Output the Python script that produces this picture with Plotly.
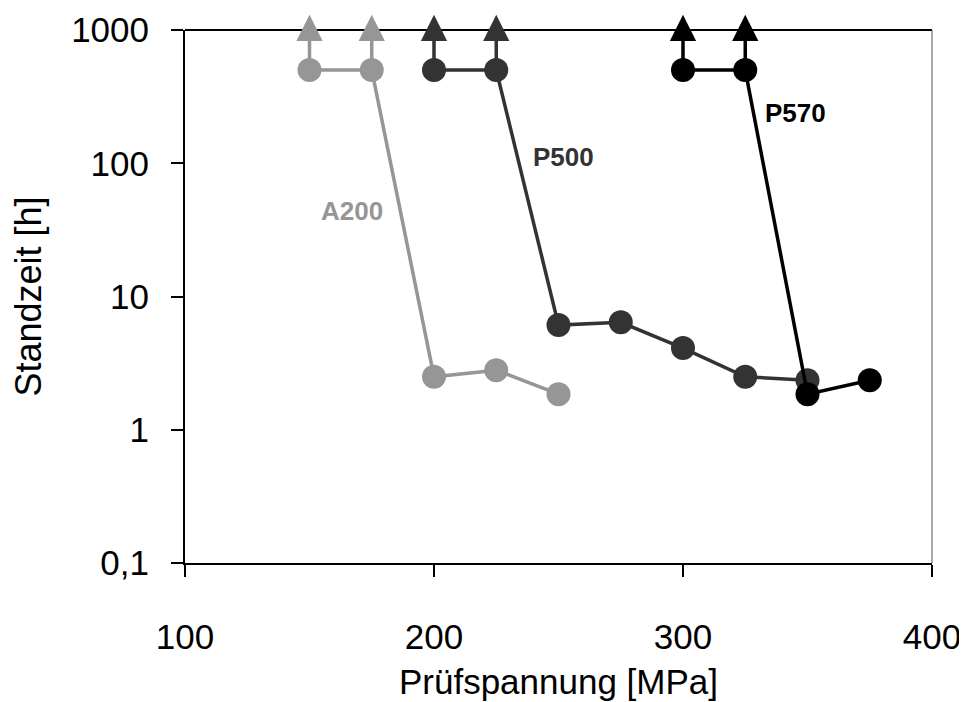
import math
import plotly.graph_objects as go

# ---- data ----
a200_x = [150, 175, 200, 225, 250]
a200_y = [500, 500, 2.5, 2.8, 1.85]
p500_x = [200, 225, 250, 275, 300, 325, 350]
p500_y = [500, 500, 6.1, 6.4, 4.1, 2.5, 2.35]
p570_x = [300, 325, 350, 375]
p570_y = [500, 500, 1.85, 2.35]

# runouts (tests stopped without failure) -> arrows
a200_runout_x = [150, 175]
p500_runout_x = [200, 225]
p570_runout_x = [300, 325]
runout_y = 500
arrow_tip_y = 1300

y_tickvals = [0.1, 1, 10, 100, 1000]
y_ticktext = ["0,1", "1", "10", "100", "1000"]
x_tickvals = [100, 200, 300, 400]

series = [
    ("A200", a200_x, a200_y, a200_runout_x, "#969696", (167, 44)),
    ("P500", p500_x, p500_y, p500_runout_x, "#333333", (252, 111)),
    ("P570", p570_x, p570_y, p570_runout_x, "#000000", (345, 238)),
]

FONT = "Liberation Sans, Arial, sans-serif"

fig = go.Figure()
annotations = []
for name, xs, ys, rx, col, lab in series:
    fig.add_trace(go.Scatter(
        x=xs, y=ys, mode="lines+markers", name=name,
        line=dict(color=col, width=3.5),
        marker=dict(color=col, size=24),
        cliponaxis=False, showlegend=False,
    ))
    for x in rx:
        annotations.append(dict(
            x=x, y=math.log10(arrow_tip_y), ax=x, ay=math.log10(runout_y),
            xref="x", yref="y", axref="x", ayref="y",
            text="", showarrow=True, arrowhead=2, arrowsize=1.5,
            arrowwidth=3.5, arrowcolor=col,
        ))
    annotations.append(dict(
        x=lab[0], y=math.log10(lab[1]), xref="x", yref="y",
        text=f"<b>{name}</b>", showarrow=False,
        font=dict(family=FONT, size=26, color=col),
    ))

fig.update_layout(
    width=967, height=702,
    margin=dict(l=177, r=43, t=22, b=147),
    paper_bgcolor="white", plot_bgcolor="white",
    font=dict(family=FONT, size=35, color="black"),
    annotations=annotations,
    showlegend=False,
)
fig.update_xaxes(
    range=[100, 400], tickvals=x_tickvals,
    showline=True, linecolor="black", linewidth=2, mirror=False,
    ticks="outside", ticklen=12, tickwidth=2, tickcolor="black",
    showgrid=False, zeroline=False,
    ticklabelstandoff=30,
    title=dict(text="Prüfspannung [MPa]", standoff=14, font=dict(size=35)),
    automargin=False,
)
fig.update_yaxes(
    type="log", range=[-1, 3], tickvals=y_tickvals, ticktext=y_ticktext,
    showline=True, linecolor="black", linewidth=2,
    ticks="outside", ticklen=12, tickwidth=2, tickcolor="black",
    showgrid=False, zeroline=False,
    ticklabelstandoff=15,
    title=dict(text="Standzeit [h]", standoff=21, font=dict(size=36)),
    automargin=False,
)
# top and right frame lines
fig.add_shape(type="line", xref="paper", yref="paper", x0=0, x1=1, y0=1, y1=1,
              line=dict(color="black", width=2), layer="below")
fig.add_shape(type="line", xref="paper", yref="paper", x0=1, x1=1, y0=0, y1=1,
              line=dict(color="#555555", width=1), layer="below")

fig.write_html("out.html")
